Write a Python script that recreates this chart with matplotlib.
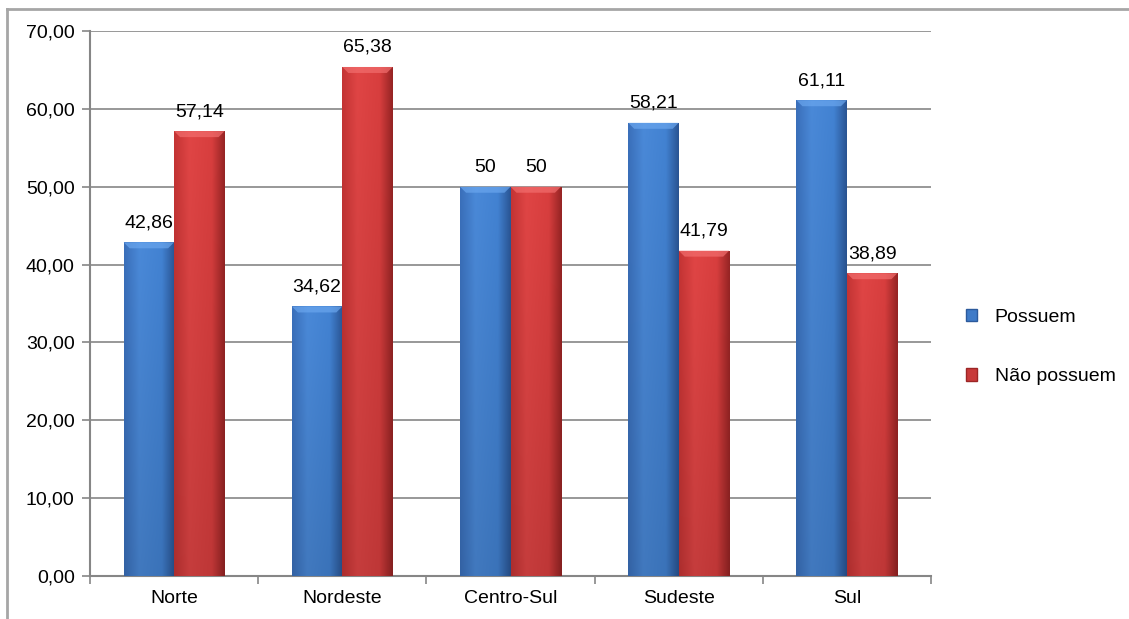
import numpy as np
import matplotlib
matplotlib.use("Agg")
import matplotlib.pyplot as plt
from matplotlib.colors import LinearSegmentedColormap
from matplotlib.patches import Polygon, Patch
from matplotlib.lines import Line2D

plt.rcParams['font.family'] = ['Liberation Sans', 'DejaVu Sans']

regions = ["Norte", "Nordeste", "Centro-Sul", "Sudeste", "Sul"]
possuem = [42.86, 34.62, 50, 58.21, 61.11]
nao_possuem = [57.14, 65.38, 50, 41.79, 38.89]
possuem_labels = ["42,86", "34,62", "50", "58,21", "61,11"]
nao_possuem_labels = ["57,14", "65,38", "50", "41,79", "38,89"]
series_names = ["Possuem", "Não possuem"]
y_ticks = [0, 10, 20, 30, 40, 50, 60, 70]

W, H = 1129, 619
FS = 14
fig = plt.figure(figsize=(W / 100, H / 100), dpi=100)
ax_l, ax_r, ax_b, ax_t = 90 / W, 931 / W, 43 / H, 588 / H
ax = fig.add_axes([ax_l, ax_b, ax_r - ax_l, ax_t - ax_b])

grid_c = "#868686"
x = np.arange(len(regions))
bw = 0.30

# shaded colour ramps across each bar (edge dark, lighter left of centre)
blue_cmap = LinearSegmentedColormap.from_list(
    "b", [(0, "#3a6fba"), (0.3, "#4a89d8"), (0.75, "#4282d2"), (1.0, "#2a5594")])
red_cmap = LinearSegmentedColormap.from_list(
    "r", [(0, "#c43434"), (0.3, "#e04545"), (0.75, "#d83e3e"), (1.0, "#962424")])

ax.set_xlim(-0.5, len(regions) - 0.5)
ax.set_ylim(0, 70)

px_per_x = (ax_r - ax_l) * W / len(regions)
px_per_y = (ax_t - ax_b) * H / 70.0
bev_px = 6


def shade(bars, cmap, bevel_color):
    horiz = cmap(np.linspace(0, 1, 64))[:, :3]
    for b in bars:
        x0, w, h = b.get_x(), b.get_width(), b.get_height()
        vert = np.linspace(1.0, 0.88, 64).reshape(-1, 1, 1)
        img = np.clip(horiz[None, :, :] * vert, 0, 1)
        im = ax.imshow(img, aspect='auto', extent=(x0, x0 + w, 0, h),
                       zorder=3, interpolation='bicubic', origin='upper')
        im.set_clip_path(b)
        dx = bev_px / px_per_x
        dy = bev_px / px_per_y
        ax.add_patch(Polygon([(x0, h), (x0 + w, h), (x0 + w - dx, h - dy), (x0 + dx, h - dy)],
                             closed=True, facecolor=bevel_color, edgecolor='none',
                             alpha=0.7, zorder=4))


b1 = ax.bar(x - bw / 2, possuem, bw, color="#4a89d8", zorder=2)
b2 = ax.bar(x + bw / 2, nao_possuem, bw, color="#e04545", zorder=2)
shade(b1, blue_cmap, "#6aa6ee")
shade(b2, red_cmap, "#f26e6e")
ax.set_xlim(-0.5, len(regions) - 0.5)
ax.set_ylim(0, 70)

for xi, v, t in zip(x - bw / 2, possuem, possuem_labels):
    ax.annotate(t, (xi, v), xytext=(0, 8), textcoords='offset points',
                ha='center', va='bottom', fontsize=FS, color='black')
for xi, v, t in zip(x + bw / 2, nao_possuem, nao_possuem_labels):
    ax.annotate(t, (xi, v), xytext=(0, 8), textcoords='offset points',
                ha='center', va='bottom', fontsize=FS, color='black')

ax.set_yticks(y_ticks)
ax.set_yticklabels([f"{v:.2f}".replace('.', ',') for v in y_ticks], fontsize=FS)
ax.yaxis.grid(True, color=grid_c, linewidth=1.2, zorder=0)
ax.set_axisbelow(True)

ax.set_xticks(np.arange(len(regions) + 1) - 0.5)
ax.set_xticklabels([])
ax.set_xticks(x, minor=True)
ax.set_xticklabels(regions, minor=True, fontsize=FS)
ax.tick_params(axis='x', which='minor', length=0, pad=10)
ax.tick_params(axis='x', which='major', length=6, color=grid_c, width=1.2)
ax.tick_params(axis='y', length=6, color=grid_c, width=1.2, pad=5)

for s in ['top', 'right']:
    ax.spines[s].set_visible(False)
for s in ['left', 'bottom']:
    ax.spines[s].set_color(grid_c)
    ax.spines[s].set_linewidth(1.5)

handles = [Patch(facecolor="#3f7bc8", edgecolor="#2c5a9c"),
           Patch(facecolor="#c83a3a", edgecolor="#9c2626")]
fig.legend(handles, series_names, loc='center left', bbox_to_anchor=(948 / W, 1 - 347 / H),
           frameon=False, fontsize=FS, handlelength=0.6, handleheight=0.6,
           handletextpad=0.9, labelspacing=2.2)

# outer chart frame
fig.add_artist(Line2D([7 / W, 1], [1 - 9 / H, 1 - 9 / H], color="#a6a6a6", linewidth=2,
                      transform=fig.transFigure))
fig.add_artist(Line2D([7 / W, 7 / W], [0, 1 - 9 / H], color="#a6a6a6", linewidth=2,
                      transform=fig.transFigure))

fig.savefig("out.png", dpi=100)
